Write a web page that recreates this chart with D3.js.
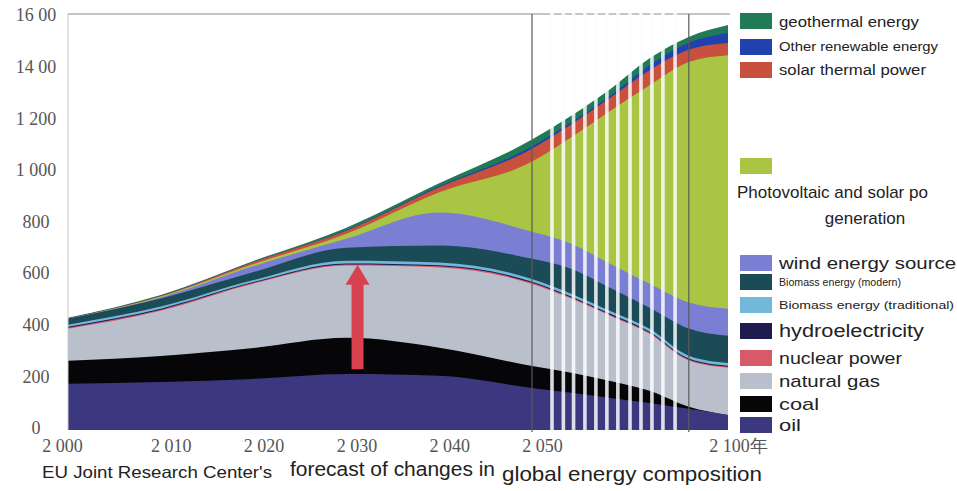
<!DOCTYPE html>
<html>
<head>
<meta charset="utf-8">
<script src="https://cdn.jsdelivr.net/npm/d3@7"></script>
<style>
body { margin: 0; background: #fff; }
svg { display: block; }
</style>
</head>
<body>
<div id="chart-area"></div>
<script>
// data (units of the left axis)
var years = [2000, 2010, 2020, 2030, 2040, 2050, 2060, 2070, 2080, 2090, 2100]

var oil            = [179, 186, 198, 217, 210, 163, 144, 124, 105,  82,  58]
var coal           = [ 89, 101, 120, 140, 109,  85,  78,  66,  47,   8,   0]
var naturalGas     = [124, 175, 249, 280, 311, 318, 287, 252, 221, 179, 183]
var nuclear        = [  4,   4,   3,   4,   4,   4,   4,   4,   4,   4,   4]
var hydro          = [  4,   4,   3,   4,   4,   4,   4,   4,   4,   4,   4]
var biomassTrad    = [  8,   8,   8,  11,  11,  11,  11,  11,  11,  11,  11]
var biomassModern  = [ 23,  31,  31,  50,  66,  78,  97,  89,  82, 105, 105]
var wind           = [  0,   4,  23,  35, 128, 105,  97,  93,  93, 101, 105]
var photovoltaic   = [  0,   4,   8,  19,  78, 272, 412, 594, 769, 932, 982]
var solarThermal   = [  1,   2,   8,  12,  19,  50,  50,  50,  58,  47,  47]
var otherRenewable = [  1,   1,   1,   2,   4,   8,   8,   8,  19,  27,  39]
var geothermal     = [  2,   3,   3,  10,  12,  27,  25,  26,  27,  23,  31]

var seriesKeys = ["oil", "coal", "gas", "nuclear", "hydro", "bioTrad", "bioModern",
                  "wind", "pv", "solarThermal", "other", "geo"]
var seriesValues = [oil, coal, naturalGas, nuclear, hydro, biomassTrad, biomassModern,
                    wind, photovoltaic, solarThermal, otherRenewable, geothermal]
var seriesLabels = ["oil", "coal", "natural gas", "nuclear power", "hydroelectricity",
                    "Biomass energy (traditional)", "Biomass energy (modern)", "wind energy source",
                    "Photovoltaic and solar power", "solar thermal power", "Other renewable energy",
                    "geothermal energy"]

var xTicks = [2000, 2010, 2020, 2030, 2040, 2050, 2100]
var xTickLabels = ["2 000", "2 010", "2 020", "2 030", "2 040", "2 050", "2 100年"]
var yTicks = [0, 200, 400, 600, 800, 1000, 1200, 1400, 1600]
var yTickLabels = ["0", "200", "400", "600", "800", "1 000", "1 200", "14 00", "16 00"]

// white stripes over the 2050s-2080s and the red arrow
var stripeYears = [2055.1, 2058.0, 2060.6, 2063.5, 2066.3, 2069.1, 2071.9, 2075.0, 2077.8, 2080.6, 2083.4, 2086.5]
var arrowYear = 2031.2
var arrowFrom = 235
var arrowTo = 640

var colors = {
  oil: "#3c3880", coal: "#060608", gas: "#b9c0cc", nuclear: "#d65a68", hydro: "#1d1b4f",
  bioTrad: "#72b8d8", bioModern: "#1b4b56", wind: "#7a7fd3", pv: "#aac443",
  solarThermal: "#c9503c", other: "#2142ae", geo: "#1f7a55"
}

var width = 957
var height = 491

var svg = d3.select("#chart-area").append("svg")
  .attr("width", width)
  .attr("height", height)

var x = d3.scaleLinear().domain([2000, 2050, 2100]).range([68, 532, 728])
var y = d3.scaleLinear().domain([0, 1600]).range([430, 17])

var table = years.map((yr, i) => {
  var row = {year: yr}
  seriesKeys.forEach((k, j) => { row[k] = seriesValues[j][i] })
  return row
})

var stacked = d3.stack().keys(seriesKeys)(table)

// each layer is filled down to the baseline, top layer first, so no seams show
var area = d3.area()
  .x(d => x(d.data.year))
  .y0(y(0))
  .y1(d => y(d[1]))
  .curve(d3.curveMonotoneX)

svg.append("g").selectAll("path")
  .data(stacked.slice().reverse())
  .enter().append("path")
  .attr("d", area)
  .attr("fill", d => colors[d.key])

// frame
svg.append("line")
  .attr("x1", x(2000)).attr("x2", x(2100) + 2)
  .attr("y1", 14).attr("y2", 14)
  .attr("stroke", "#8c8c8c").attr("stroke-width", 1.2)
svg.append("line")
  .attr("x1", x(2000)).attr("x2", x(2000))
  .attr("y1", 14).attr("y2", y(0))
  .attr("stroke", "#c8c8c8")

svg.selectAll(".vline")
  .data([2050, 2090])
  .enter().append("line")
  .attr("class", "vline")
  .attr("x1", d => x(d)).attr("x2", d => x(d))
  .attr("y1", 14).attr("y2", y(0) + 2)
  .attr("stroke", "#5a5a5a").attr("stroke-width", 1.2)

svg.selectAll(".stripe")
  .data(stripeYears)
  .enter().append("rect")
  .attr("class", "stripe")
  .attr("x", d => x(d) - 1.8)
  .attr("y", 8)
  .attr("width", 3.6)
  .attr("height", y(0) + 2 - 8)
  .attr("fill", "#fbfdff")
  .attr("opacity", 0.85)

// red arrow
var ax = x(arrowYear), yb = y(arrowFrom), yt = y(arrowTo)
svg.append("path")
  .attr("d", "M" + (ax - 6) + "," + yb + "L" + (ax - 6) + "," + (yt + 20) +
             "L" + (ax - 12) + "," + (yt + 20) + "L" + ax + "," + yt +
             "L" + (ax + 12) + "," + (yt + 20) + "L" + (ax + 6) + "," + (yt + 20) +
             "L" + (ax + 6) + "," + yb + "Z")
  .attr("fill", "#d8424e")

// Y axis
var yAxisGroup = svg.append("g")
  .attr("transform", "translate(36, -2)")
  .call(d3.axisLeft(y).tickValues(yTicks).tickSize(0)
    .tickFormat((d, i) => yTickLabels[i]))
yAxisGroup.select(".domain").remove()
yAxisGroup.selectAll("text")
  .attr("x", 0)
  .attr("text-anchor", "middle")
  .attr("font-family", "'Liberation Serif', 'DejaVu Serif', serif")
  .attr("font-size", "18px")
  .attr("fill", "#555")

// X axis
var xAxisGroup = svg.append("g")
  .attr("transform", "translate(0, 436)")
  .call(d3.axisBottom(x).tickValues(xTicks).tickSize(0)
    .tickFormat((d, i) => xTickLabels[i]))
xAxisGroup.select(".domain").remove()
xAxisGroup.selectAll("text")
  .attr("dx", (d, i) => i == 0 ? -6 : 10)
  .attr("font-family", "'Liberation Serif', 'DejaVu Serif', serif")
  .attr("font-size", "18px")
  .attr("fill", "#555")

// Legend
var legendLayout = [
  {key: "geo", y: 21, size: 15, w: 140},
  {key: "other", y: 47, size: 12.5, w: 159},
  {key: "solarThermal", y: 70, size: 14, w: 147},
  {key: "wind", y: 263, size: 17, w: 177},
  {key: "bioModern", y: 282, size: 11, w: 122},
  {key: "bioTrad", y: 305, size: 11.5, w: 175},
  {key: "hydro", y: 331, size: 18, w: 145},
  {key: "nuclear", y: 358, size: 17, w: 123},
  {key: "gas", y: 381, size: 17, w: 101},
  {key: "coal", y: 404, size: 17, w: 40},
  {key: "oil", y: 425, size: 17, w: 22}
]

var legend = svg.append("g")
legendLayout.forEach(item => {
  legend.append("rect")
    .attr("x", 740).attr("y", item.y - 8)
    .attr("width", 32).attr("height", 16)
    .attr("fill", colors[item.key])
  legend.append("text")
    .attr("x", 779).attr("y", item.y)
    .attr("dominant-baseline", "central")
    .attr("font-family", "'Liberation Sans', Arial, sans-serif")
    .attr("font-size", item.size + "px")
    .attr("textLength", item.w)
    .attr("lengthAdjust", "spacingAndGlyphs")
    .attr("fill", "#222")
    .text(seriesLabels[seriesKeys.indexOf(item.key)])
})

// photovoltaic entry: swatch with the label underneath
legend.append("rect")
  .attr("x", 740).attr("y", 158)
  .attr("width", 32).attr("height", 16)
  .attr("fill", colors.pv)
legend.append("text")
  .attr("x", 737).attr("y", 192)
  .attr("dominant-baseline", "central")
  .attr("font-family", "'Liberation Sans', Arial, sans-serif")
  .attr("font-size", "17px")
  .attr("fill", "#222")
  .text(seriesLabels[seriesKeys.indexOf("pv")].replace(" power", " po"))
legend.append("text")
  .attr("x", 865).attr("y", 218)
  .attr("text-anchor", "middle")
  .attr("dominant-baseline", "central")
  .attr("font-family", "'Liberation Sans', Arial, sans-serif")
  .attr("font-size", "17px")
  .attr("fill", "#222")
  .text("generation")

// caption
var caption = [
  {t: "EU Joint Research Center's", x: 42, y: 478, size: 16.5, w: 230},
  {t: "forecast of changes in", x: 290, y: 476, size: 20, w: 205},
  {t: "global energy composition", x: 502, y: 481, size: 21, w: 260}
]
svg.selectAll(".caption")
  .data(caption)
  .enter().append("text")
  .attr("class", "caption")
  .attr("x", d => d.x).attr("y", d => d.y)
  .attr("font-family", "'Liberation Sans', Arial, sans-serif")
  .attr("font-size", d => d.size + "px")
  .attr("textLength", d => d.w)
  .attr("lengthAdjust", "spacingAndGlyphs")
  .attr("fill", "#222")
  .text(d => d.t)
</script>
</body>
</html>
